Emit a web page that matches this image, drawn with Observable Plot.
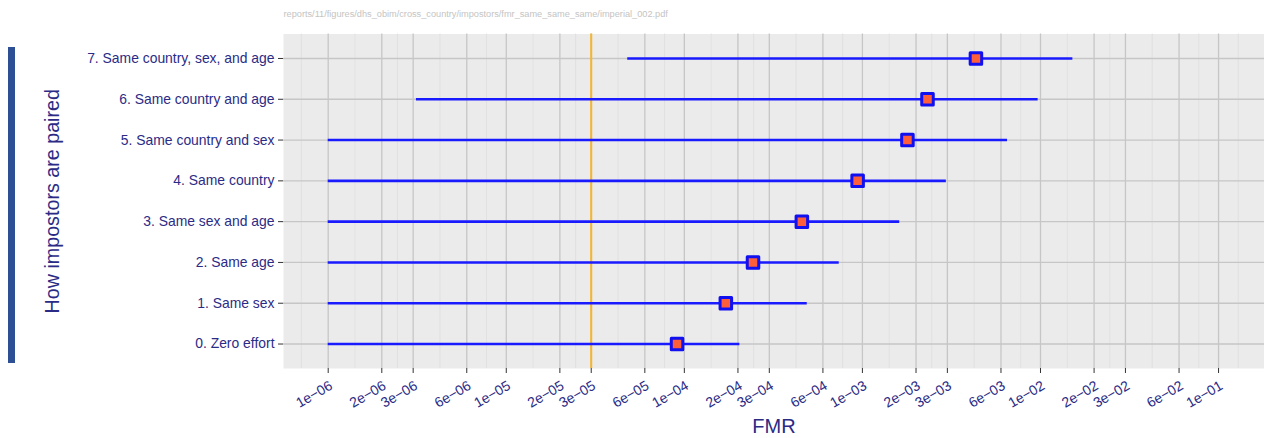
<!DOCTYPE html>
<html><head><meta charset="utf-8">
<script src="https://cdn.jsdelivr.net/npm/d3@7"></script>
<script src="https://cdn.jsdelivr.net/npm/@observablehq/plot@0.6"></script>
<style>
html,body{margin:0;padding:0;background:#fff;}
#wrap{position:relative;width:1264px;height:438px;overflow:hidden;}
#bar{position:absolute;left:8px;top:47px;width:7px;height:316px;background:#2c5093;z-index:2;}
#wrap svg{position:absolute;left:0;top:0;}
</style></head><body><div id="wrap"><div id="bar"></div></div>
<script>
// ---- data ----
const categories = [
  "0. Zero effort",
  "1. Same sex",
  "2. Same age",
  "3. Same sex and age",
  "4. Same country",
  "5. Same country and sex",
  "6. Same country and age",
  "7. Same country, sex, and age"
];
const fmr   = [9.1e-5, 1.71e-4, 2.43e-4, 4.57e-4, 9.4e-4, 1.79e-3, 2.32e-3, 4.34e-3];
const lower = [1e-6, 1e-6, 1e-6, 1e-6, 1e-6, 1e-6, 3.13e-6, 4.81e-5];
const upper = [2.05e-4, 4.9e-4, 7.41e-4, 1.62e-3, 2.96e-3, 6.53e-3, 9.7e-3, 1.52e-2];
const threshold = 3e-5;
const tickValues = [1e-6,2e-6,3e-6,6e-6,1e-5,2e-5,3e-5,6e-5,1e-4,2e-4,3e-4,6e-4,1e-3,2e-3,3e-3,6e-3,1e-2,2e-2,3e-2,6e-2,1e-1];
const tickLabels = ["1e\u221206","2e\u221206","3e\u221206","6e\u221206","1e\u221205","2e\u221205","3e\u221205","6e\u221205","1e\u221204","2e\u221204","3e\u221204","6e\u221204","1e\u221203","2e\u221203","3e\u221203","6e\u221203","1e\u221202","2e\u221202","3e\u221202","6e\u221202","1e\u221201"];
const fileTitle = "reports/11/figures/dhs_obim/cross_country/impostors/fmr_same_same_same/imperial_002.pdf";
const xTitle = "FMR";
const yTitle = "How impostors are paired";

// ---- derived tables ----
const rows = categories.map((c, i) => ({category: c, fmr: fmr[i], lower: lower[i], upper: upper[i]}));
const labelFor = d => {
  const i = tickValues.findIndex(v => Math.abs(Math.log10(v) - Math.log10(d)) < 1e-6);
  return i >= 0 ? tickLabels[i] : "";
};
const L = tickValues.map(Math.log10);
const minorTicks = [];
minorTicks.push(Math.pow(10, L[0] - (L[1] - L[0]) / 2));
for (let i = 0; i < L.length - 1; i++) minorTicks.push(Math.pow(10, (L[i] + L[i + 1]) / 2));
minorTicks.push(Math.pow(10, L[L.length - 1] + (L[L.length - 1] - L[L.length - 2]) / 2));

const navy = "#2b2b86";
const font = "'Liberation Sans', Arial, Helvetica, sans-serif";

const chart = Plot.plot({
  width: 1264, height: 438,
  marginLeft: 283, marginRight: 0, marginTop: 33.5, marginBottom: 70,
  style: {fontFamily: font, background: "transparent", overflow: "visible"},
  x: {type: "log", domain: [Math.pow(10, -6.251), Math.pow(10, -0.742)]},
  y: {type: "point", domain: categories.slice().reverse(), padding: 0.6, round: false},
  marks: [
    Plot.frame({fill: "#ebebeb", stroke: "none"}),
    Plot.ruleX(minorTicks, {stroke: "#dcdcdc", strokeWidth: 0.7}),
    Plot.ruleX(tickValues, {stroke: "#c6c6c6", strokeWidth: 1.3}),
    Plot.ruleY(categories, {stroke: "#c6c6c6", strokeWidth: 1.3}),
    Plot.ruleX([threshold], {stroke: "#f7b529", strokeWidth: 2}),
    Plot.ruleY(rows, {y: "category", x1: "lower", x2: "upper", stroke: "#1a1aff", strokeWidth: 2.6}),
    Plot.dot(rows, {x: "fmr", y: "category", symbol: "square", r: 6.5, fill: "#ff5e3a", stroke: "#1010f0", strokeWidth: 3, strokeLinejoin: "round"}),
    // x tick marks
    Plot.axisX(tickValues, {ticks: Infinity, tickFormat: labelFor, tickSize: 5, fill: "none", stroke: "#333", label: null}),
    // x tick labels
    Plot.axisX(tickValues, {ticks: Infinity, tickFormat: labelFor, tickRotate: -30, tickSize: 0, tickPadding: 16, dx: 3, fontSize: 14, fill: navy, stroke: "none", label: null}),
    Plot.axisY({tickSize: 5, tickPadding: 4, fontSize: 13.9, fill: navy, stroke: "#333", label: null}),
    Plot.text([fileTitle], {frameAnchor: "top-left", textAnchor: "start", lineAnchor: "middle", dy: -20, fontSize: 9.2, fill: "#c4c4c4"}),
    Plot.text([xTitle], {frameAnchor: "bottom", dy: 58, fontSize: 20, fill: navy, lineAnchor: "middle"}),
    Plot.text([yTitle], {frameAnchor: "left", dx: -231, rotate: -90, textAnchor: "middle", lineAnchor: "middle", fontSize: 19.7, fill: navy})
  ]
});
document.getElementById("wrap").appendChild(chart);
</script></body></html>
